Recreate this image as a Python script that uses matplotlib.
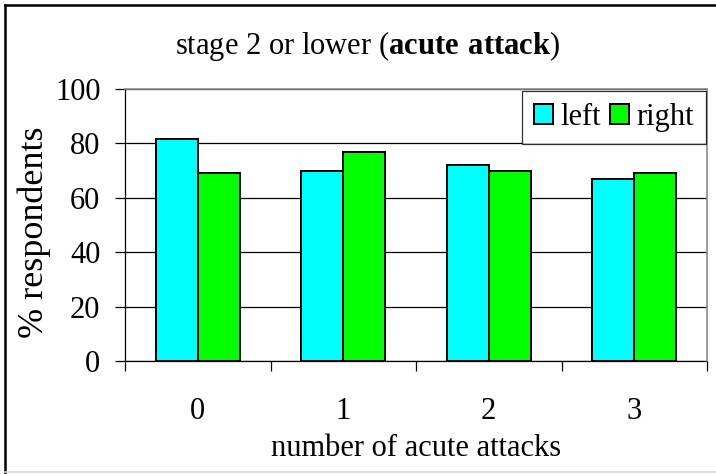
import matplotlib
matplotlib.use('Agg')
import matplotlib.pyplot as plt
from matplotlib.lines import Line2D
import numpy as np

# Data
categories = ['0', '1', '2', '3']
left_pct = [81.5, 70, 72, 67]
right_pct = [69, 77, 70, 69]
series_names = ['left', 'right']
y_ticks = [0, 20, 40, 60, 80, 100]

plt.rcParams['font.family'] = ['Liberation Serif', 'DejaVu Serif']
plt.rcParams['mathtext.fontset'] = 'custom'
plt.rcParams['mathtext.rm'] = 'Liberation Serif'
plt.rcParams['mathtext.bf'] = 'Liberation Serif:bold'

FS = 22
W, H = 716, 474

fig = plt.figure(figsize=(W / 100, H / 100), dpi=100)
ax = fig.add_axes([125 / W, 1 - 361 / H, (707 - 125) / W, (361 - 89) / H])

x = np.arange(len(categories))
bw = 0.289
ax.bar(x - bw / 2, left_pct, bw, color='#00FFFF', edgecolor='black', linewidth=1.4,
       label=series_names[0], zorder=3)
ax.bar(x + bw / 2, right_pct, bw, color='#00FF00', edgecolor='black', linewidth=1.4,
       label=series_names[1], zorder=3)

ax.set_xlim(-0.5, len(categories) - 0.5)
ax.set_ylim(0, 100)
ax.set_yticks(y_ticks)
ax.yaxis.grid(True, color='black', linewidth=0.9, zorder=0)
ax.set_axisbelow(True)

# category labels in the middle, tick marks between categories
ax.set_xticks(x)
ax.set_xticklabels(categories)
ax.set_xticks(np.arange(len(categories) + 1) - 0.5, minor=True)
ax.tick_params(axis='x', which='major', length=0, pad=26, labelsize=FS)
ax.tick_params(axis='x', which='minor', length=7.2, width=0.9, direction='out')
ax.tick_params(axis='y', length=7.2, width=0.9, direction='out', pad=10.5, labelsize=FS)

for side in ['left', 'bottom']:
    ax.spines[side].set_color('black')
    ax.spines[side].set_linewidth(0.9)
for side in ['top', 'right']:
    ax.spines[side].set_color('#8c8c8c')
    ax.spines[side].set_linewidth(1.2)
    ax.spines[side].set_zorder(4)

leg = ax.legend(loc='upper right', bbox_to_anchor=(0.999, 0.993), ncol=2, fontsize=FS,
                frameon=True, fancybox=False, shadow=False, borderaxespad=0,
                handlelength=0.62, handleheight=0.62, handletextpad=0.25,
                columnspacing=0.3, borderpad=0.4)
leg.get_frame().set_edgecolor('black')
leg.get_frame().set_linewidth(0.9)
leg.set_zorder(5)

fig.text(367.5 / W, 1 - 54 / H, r'stage 2 or lower ($\mathbf{acute\ attack}$)',
         ha='center', va='baseline', fontsize=FS)
fig.text(416 / W, 1 - 456 / H, 'number of acute attacks', ha='center', va='baseline',
         fontsize=FS)
fig.text(34 / W, 1 - 232 / H, '% respondents', rotation=90, ha='center', va='center',
         fontsize=26)

# outer chart frame
fig.add_artist(Line2D([5 / W, 1], [1 - 5 / H, 1 - 5 / H], color='black', linewidth=1.8,
                      transform=fig.transFigure))
fig.add_artist(Line2D([5 / W, 5 / W], [1 - 5 / H, 0], color='black', linewidth=1.8,
                      transform=fig.transFigure))
fig.add_artist(Line2D([5 / W, 1], [1 - 472 / H, 1 - 472 / H], color='#d9d9d9', linewidth=1.2,
                      transform=fig.transFigure))

fig.savefig('out.png', dpi=100)
